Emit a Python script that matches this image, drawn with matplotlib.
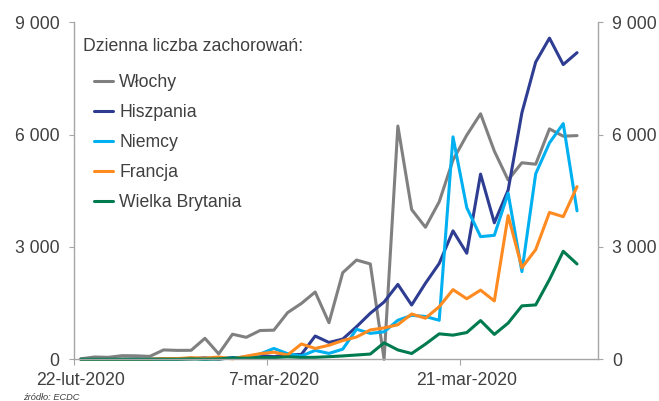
import matplotlib
matplotlib.use("Agg")
from matplotlib import pyplot as plt
from matplotlib.ticker import FuncFormatter
import numpy as np
import pandas as pd

plt.rcParams['font.family'] = ['Liberation Sans', 'DejaVu Sans']

# daily new cases, 22 Feb - 29 Mar 2020 (one value per day)
dates = pd.date_range("2020-02-22", "2020-03-29", freq="D")

wlochy = [14, 62, 53, 97, 93, 78, 250, 238, 240, 561, 145, 670, 587, 769, 778,
          1247, 1492, 1797, 977, 2313, 2651, 2547, 0, 6230, 4000, 3526, 4207,
          5322, 5986, 6557, 5560, 4789, 5249, 5210, 6153, 5959, 5974]
hiszpania = [0, 0, 0, 1, 8, 2, 17, 13, 13, 39, 6, 46, 49, 104, 70, 124, 130,
             622, 450, 540, 870, 1230, 1530, 2000, 1450, 2030, 2560, 3430, 2833,
             4946, 3646, 4517, 6584, 7937, 8578, 7871, 8189]
niemcy = [0, 0, 0, 0, 0, 0, 0, 10, 30, 0, 20, 30, 65, 140, 290, 150, 90, 237,
          157, 271, 802, 693, 733, 1043, 1174, 1144, 1042, 5940, 4049, 3276,
          3311, 4438, 2342, 4954, 5780, 6294, 3965]
francja = [0, 0, 0, 0, 0, 2, 20, 19, 43, 30, 61, 13, 84, 150, 190, 115, 410,
           290, 375, 500, 595, 785, 838, 924, 1210, 1097, 1404, 1861, 1617,
           1847, 1559, 3838, 2446, 2929, 3922, 3809, 4611]
wielka_brytania = [0, 0, 0, 0, 0, 0, 3, 1, 12, 4, 11, 34, 29, 46, 46, 65, 50,
                   52, 70, 90, 115, 140, 440, 250, 155, 405, 680, 645, 715,
                   1035, 665, 967, 1427, 1452, 2129, 2885, 2546]

series_names = ["Włochy", "Hiszpania", "Niemcy", "Francja", "Wielka Brytania"]
series_colors = ["#808080", "#2E3D92", "#00B0F0", "#FF8A1F", "#007A4F"]

tick_dates = ["2020-02-22", "2020-03-07", "2020-03-21"]
tick_labels = ["22-lut-2020", "7-mar-2020", "21-mar-2020"]
y_ticks = [0, 3000, 6000, 9000]

W, H = 659, 401
fig = plt.figure(figsize=(W / 100, H / 100), dpi=100)
ax = fig.add_axes([74 / W, 1 - 359.3 / H, (597.7 - 74) / W, (359.3 - 22.3) / H])

x = np.arange(len(dates))
for vals, name, col in zip([wlochy, hiszpania, niemcy, francja, wielka_brytania],
                           series_names, series_colors):
    ax.plot(x, vals, color=col, lw=2.2, label=name, clip_on=False,
            solid_joinstyle="round", solid_capstyle="round")

# category axis: 38 slots, ticks between categories
ax.set_xlim(-0.5, len(dates) + 0.5)
ax.set_ylim(0, 9000)

axis_col = "#A6A6A6"
txt_col = "#404040"
for side in ["left", "right", "bottom"]:
    ax.spines[side].set_color(axis_col)
    ax.spines[side].set_linewidth(1.0)
ax.spines["top"].set_visible(False)

pos = [dates.get_loc(pd.Timestamp(d)) for d in tick_dates]
ax.set_xticks([p - 0.5 for p in pos])
ax.set_xticklabels([])
ax.set_xticks(pos, minor=True)
ax.set_xticklabels(tick_labels, minor=True)
ax.tick_params(axis="x", which="major", length=4, color=axis_col, direction="out")
ax.tick_params(axis="x", which="minor", length=0, pad=9, labelsize=12.7, labelcolor=txt_col)

ax.set_yticks(y_ticks)
ax.yaxis.set_major_formatter(FuncFormatter(lambda v, p: f"{int(v):,}".replace(",", " ")))
ax.tick_params(axis="y", left=True, right=True, labelleft=True, labelright=True,
               direction="out", length=3.5, color=axis_col, pad=7,
               labelsize=12.7, labelcolor=txt_col)

fig.text(83.3 / W, 1 - 46.7 / H, "Dzienna liczba zachorowań:", va="center", ha="left",
         fontsize=12.7, color=txt_col)
ax.legend(loc="upper left", bbox_to_anchor=(94.3 / W, 1 - 74 / H), bbox_transform=fig.transFigure,
          frameon=False, borderpad=0, borderaxespad=0, handlelength=1.08, handletextpad=0.34,
          labelspacing=0.74, fontsize=12.7, labelcolor=txt_col)

fig.text(23 / W, 1 - 398 / H, "źródło: ECDC", va="center", ha="left", fontsize=6.7,
         style="italic", color=txt_col)

fig.savefig("out.png", dpi=100)
